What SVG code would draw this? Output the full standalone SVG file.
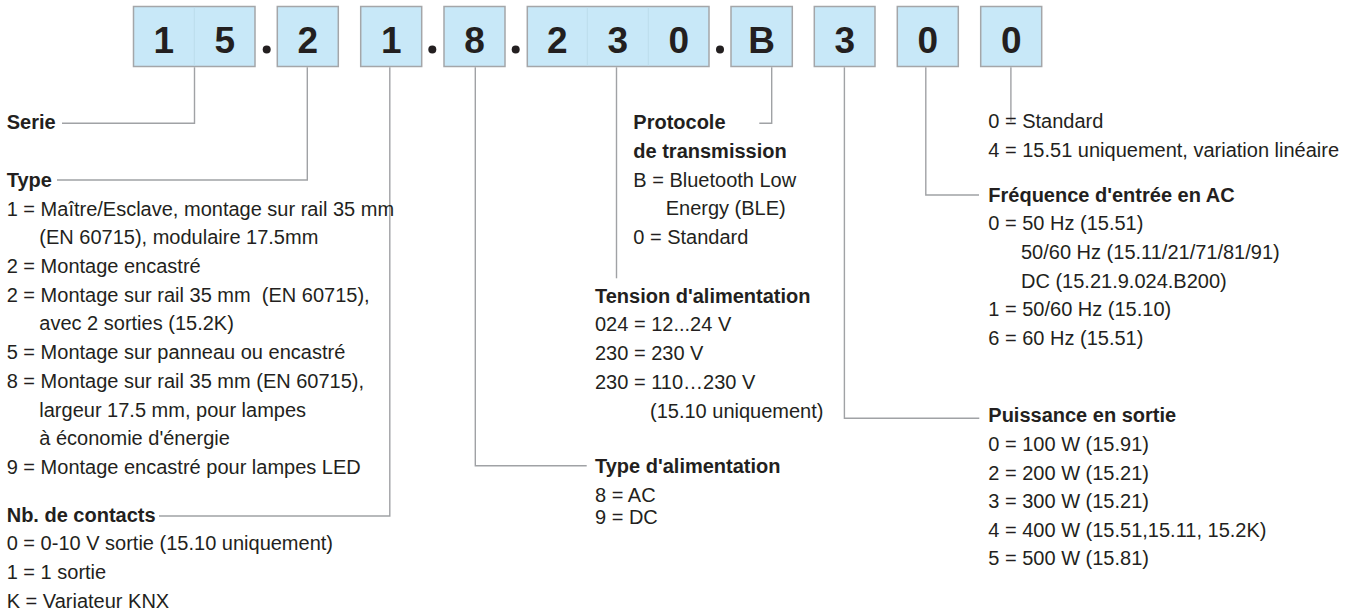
<svg xmlns="http://www.w3.org/2000/svg" width="1353" height="615" viewBox="0 0 1353 615">
<style>
  .box{fill:#c8e8f8;stroke:#a4a6a9;stroke-width:1.5}
  .div{stroke:#bcdcec;stroke-width:1}
  .dig{font-family:"Liberation Sans",Arial,sans-serif;font-weight:bold;font-size:37px;fill:#231f20;text-anchor:middle}
  .dot{fill:#231f20}
  .t{font-family:"Liberation Sans",Arial,sans-serif;font-size:20px;fill:#231f20;white-space:pre}
  .b{font-weight:bold}
  .con{fill:none;stroke:#a0a2a5;stroke-width:1.4}
</style>
<g id="code">
  <g id="box-15">
    <rect class="box" x="133.5" y="6.5" width="121.5" height="60"/>
    <line class="div" x1="194.3" y1="7.3" x2="194.3" y2="65.7"/>
    <text class="dig" x="163.8" y="53.3">1</text>
    <text class="dig" x="224.7" y="53.3">5</text>
  </g>
  <circle class="dot" cx="266.7" cy="49.5" r="4"/>
  <g id="box-2">
    <rect class="box" x="277.3" y="6.5" width="61" height="60"/>
    <text class="dig" x="307.8" y="53.3">2</text>
  </g>
  <g id="box-1">
    <rect class="box" x="360.7" y="6.5" width="61" height="60"/>
    <text class="dig" x="391.2" y="53.3">1</text>
  </g>
  <circle class="dot" cx="432.3" cy="49.5" r="4"/>
  <g id="box-8">
    <rect class="box" x="444" y="6.5" width="61" height="60"/>
    <text class="dig" x="474.5" y="53.3">8</text>
  </g>
  <circle class="dot" cx="515.7" cy="49.5" r="4"/>
  <g id="box-230">
    <rect class="box" x="527.3" y="6.5" width="181.7" height="60"/>
    <line class="div" x1="587.3" y1="7.3" x2="587.3" y2="65.7"/>
    <line class="div" x1="648.3" y1="7.3" x2="648.3" y2="65.7"/>
    <text class="dig" x="557.3" y="53.3">2</text>
    <text class="dig" x="617.8" y="53.3">3</text>
    <text class="dig" x="678.7" y="53.3">0</text>
  </g>
  <circle class="dot" cx="720" cy="49.5" r="4"/>
  <g id="box-B">
    <rect class="box" x="731" y="6.5" width="61.3" height="60"/>
    <text class="dig" x="761.6" y="53.3">B</text>
  </g>
  <g id="box-3">
    <rect class="box" x="814.3" y="6.5" width="60.7" height="60"/>
    <text class="dig" x="844.7" y="53.3">3</text>
  </g>
  <g id="box-0a">
    <rect class="box" x="897.3" y="6.5" width="61" height="60"/>
    <text class="dig" x="927.8" y="53.3">0</text>
  </g>
  <g id="box-0b">
    <rect class="box" x="980.7" y="6.5" width="61" height="60"/>
    <text class="dig" x="1011.2" y="53.3">0</text>
  </g>
</g>
<g id="connectors">
  <path class="con" d="M194.5 67.3V123.3H62"/>
  <path class="con" d="M307.3 67.3V180H57"/>
  <path class="con" d="M389.8 67.3V516H159"/>
  <path class="con" d="M475.3 67.3V465.7H586.7"/>
  <path class="con" d="M616.5 67.3V278.3"/>
  <path class="con" d="M771.7 67.3V123.3H759.3"/>
  <path class="con" d="M844.4 67.3V418.3H979.3"/>
  <path class="con" d="M925.8 67.3V195H979"/>
  <path class="con" d="M1010.9 67.3V121.7"/>
</g>
<g id="serie">
  <text class="t b" x="6.7" y="129.3">Serie</text>
</g>
<g id="type">
  <text class="t b" x="6.7" y="186.7">Type</text>
  <text class="t" x="6.7" y="215.6">1 = Maître/Esclave, montage sur rail 35 mm</text>
  <text class="t" x="39.3" y="244.3">(EN 60715), modulaire 17.5mm</text>
  <text class="t" x="6.7" y="273">2 = Montage encastré</text>
  <text class="t" x="6.7" y="301.7">2 = Montage sur rail 35 mm  (EN 60715),</text>
  <text class="t" x="39.3" y="330.4">avec 2 sorties (15.2K)</text>
  <text class="t" x="6.7" y="359.1">5 = Montage sur panneau ou encastré</text>
  <text class="t" x="6.7" y="387.8">8 = Montage sur rail 35 mm (EN 60715),</text>
  <text class="t" x="39.3" y="416.5">largeur 17.5 mm, pour lampes</text>
  <text class="t" x="39.3" y="445.2">à économie d'énergie</text>
  <text class="t" x="6.7" y="473.9">9 = Montage encastré pour lampes LED</text>
</g>
<g id="contacts">
  <text class="t b" x="6.7" y="521.7">Nb. de contacts</text>
  <text class="t" x="6.7" y="550.4">0 = 0-10 V sortie (15.10 uniquement)</text>
  <text class="t" x="6.7" y="579.1">1 = 1 sortie</text>
  <text class="t" x="6.7" y="607.8">K = Variateur KNX</text>
</g>
<g id="type-alim">
  <text class="t b" x="595" y="473.3">Type d'alimentation</text>
  <text class="t" x="595" y="502">8 = AC</text>
  <text class="t" x="595" y="524">9 = DC</text>
</g>
<g id="tension">
  <text class="t b" x="595" y="302.7">Tension d'alimentation</text>
  <text class="t" x="595" y="331.4">024 = 12...24 V</text>
  <text class="t" x="595" y="360.1">230 = 230 V</text>
  <text class="t" x="595" y="388.8">230 = 110…230 V</text>
  <text class="t" x="650" y="417.5">(15.10 uniquement)</text>
</g>
<g id="protocole">
  <text class="t b" x="633.3" y="129.3">Protocole</text>
  <text class="t b" x="633.3" y="158">de transmission</text>
  <text class="t" x="633.3" y="186.7">B = Bluetooth Low</text>
  <text class="t" x="665.7" y="215.4">Energy (BLE)</text>
  <text class="t" x="633.3" y="244.1">0 = Standard</text>
</g>
<g id="variation">
  <text class="t" x="988.3" y="128.3">0 = Standard</text>
  <text class="t" x="988.3" y="157">4 = 15.51 uniquement, variation linéaire</text>
</g>
<g id="frequence">
  <text class="t b" x="988.3" y="201.5">Fréquence d'entrée en AC</text>
  <text class="t" x="988.3" y="230.2">0 = 50 Hz (15.51)</text>
  <text class="t" x="1021" y="258.9">50/60 Hz (15.11/21/71/81/91)</text>
  <text class="t" x="1021" y="287.6">DC (15.21.9.024.B200)</text>
  <text class="t" x="988.3" y="316.3">1 = 50/60 Hz (15.10)</text>
  <text class="t" x="988.3" y="345">6 = 60 Hz (15.51)</text>
</g>
<g id="puissance">
  <text class="t b" x="988.3" y="422">Puissance en sortie</text>
  <text class="t" x="988.3" y="451">0 = 100 W (15.91)</text>
  <text class="t" x="988.3" y="479.6">2 = 200 W (15.21)</text>
  <text class="t" x="988.3" y="508.2">3 = 300 W (15.21)</text>
  <text class="t" x="988.3" y="536.8">4 = 400 W (15.51,15.11, 15.2K)</text>
  <text class="t" x="988.3" y="565.4">5 = 500 W (15.81)</text>
</g>
</svg>
